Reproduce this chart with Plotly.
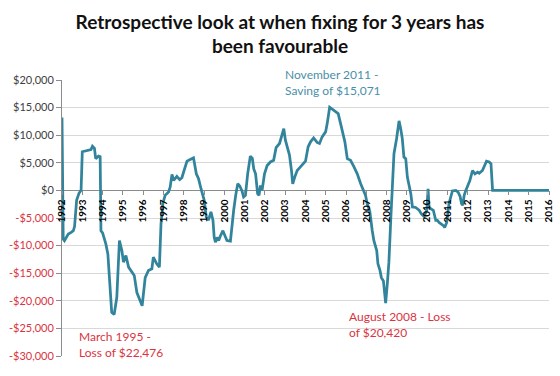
import plotly.graph_objects as go

# Decimal year of fixing start vs. saving (+) / loss (-) in $
years = [
    1992.00, 1992.06, 1992.12, 1992.20, 1992.31, 1992.45, 1992.56, 1992.62, 1992.72, 1992.84,
    1992.94, 1993.00, 1993.13, 1993.30, 1993.43, 1993.50, 1993.60, 1993.66, 1993.80, 1993.88,
    1993.92, 1994.00, 1994.16, 1994.26, 1994.37, 1994.45, 1994.57, 1994.70, 1994.83, 1994.95,
    1995.03, 1995.15, 1995.28, 1995.44, 1995.56, 1995.69, 1995.88, 1995.95, 1996.10, 1996.26,
    1996.43, 1996.50, 1996.67, 1996.80, 1996.88, 1996.97, 1997.08, 1997.25, 1997.33, 1997.42,
    1997.50, 1997.66, 1997.80, 1997.91, 1998.02, 1998.16, 1998.32, 1998.48, 1998.62, 1998.73,
    1998.85, 1998.95, 1999.01, 1999.11, 1999.22, 1999.34, 1999.44, 1999.50, 1999.56, 1999.64,
    1999.72, 1999.80, 1999.93, 2000.05, 2000.13, 2000.30, 2000.38, 2000.46, 2000.56, 2000.66,
    2000.76, 2000.87, 2000.95, 2001.04, 2001.15, 2001.28, 2001.38, 2001.45, 2001.54, 2001.64,
    2001.71, 2001.78, 2001.86, 2001.98, 2002.11, 2002.27, 2002.43, 2002.55, 2002.72, 2002.88,
    2002.93, 2003.01, 2003.15, 2003.21, 2003.31, 2003.37, 2003.47, 2003.59, 2003.75, 2003.92,
    2004.00, 2004.13, 2004.25, 2004.40, 2004.57, 2004.69, 2004.82, 2004.99, 2005.07, 2005.19,
    2005.32, 2005.48, 2005.61, 2005.73, 2005.84, 2005.94, 2006.06, 2006.22, 2006.39, 2006.55,
    2006.72, 2006.83, 2006.96, 2007.04, 2007.13, 2007.17, 2007.29, 2007.37, 2007.51, 2007.57,
    2007.67, 2007.74, 2007.84, 2007.90, 2007.95, 2008.03, 2008.11, 2008.20, 2008.28, 2008.36,
    2008.49, 2008.61, 2008.69, 2008.77, 2008.85, 2008.94, 2009.02, 2009.10, 2009.19, 2009.27,
    2009.43, 2009.60, 2009.71, 2009.84, 2009.98, 2010.04, 2010.09, 2010.17, 2010.30, 2010.42,
    2010.50, 2010.58, 2010.70, 2010.80, 2010.86, 2010.96, 2011.07, 2011.16, 2011.24, 2011.41,
    2011.52, 2011.62, 2011.69, 2011.75, 2011.82, 2011.90, 2011.99, 2012.10, 2012.23, 2012.35,
    2012.48, 2012.56, 2012.72, 2012.84, 2012.92, 2013.05, 2013.14, 2013.22, 2014.00, 2015.00,
    2016.00,
]
savings = [
    13200, -8800, -9100, -8600, -7900, -7600, -7300, -6500, -1800, -500,
    0, 7000, 7150, 7300, 7400, 8000, 7600, 5750, 6200, 6100,
    -7300, -7700, -9700, -11500, -17000, -22100, -22476, -19400, -9100, -10900,
    -13000, -11800, -13900, -14800, -15400, -18500, -20400, -20900, -15800, -14500,
    -14200, -12100, -13300, -13900, -6000, -2400, -900, -300, 600, 2900,
    1800, 2550, 1950, 2300, 3650, 5300, 5600, 5900, 3000, 2100,
    300, -1200, -1800, -4800, -5400, -3900, -5400, -8500, -9400, -8500,
    -9100, -8300, -7300, -8400, -9100, -9200, -6100, -3600, -900, 1200,
    800, -100, -1200, -900, 3000, 6200, 5800, 3900, 3000, -600,
    -900, 900, 0, 3000, 4500, 5150, 5450, 7750, 8500, 11000,
    11200, 9100, 7300, 6400, 3600, 1200, 2400, 3600, 4250, 4850,
    5300, 7900, 8800, 9500, 8700, 8500, 9700, 10600, 12100, 15071,
    14700, 14250, 13900, 12100, 10000, 8800, 5750, 5450, 4250, 3000,
    1200, 300, -900, -2400, -3600, -3800, -7300, -9100, -10900, -13300,
    -14500, -15800, -16400, -18200, -20420, -17000, -13000, -5450, 1800, 6650,
    9400, 12600, 11200, 9400, 6050, 5750, 2400, 1200, -600, -3000,
    -3100, -3600, -4250, -4700, -3600, 300, -3000, -3300, -3600, -5450,
    -5450, -5800, -6100, -6400, -6700, -5800, -2400, -900, -100, 0,
    -300, -1100, -2400, -2700, -900, 0, 900, 1800, 3600, 3000,
    3300, 3100, 3600, 4500, 5300, 5150, 4850, 0, 0, 0,
    0,
]

year_ticks = list(range(1992, 2017))
year_labels = [str(y) for y in year_ticks]
y_ticks = [20000, 15000, 10000, 5000, 0, -5000, -10000, -15000, -20000, -25000, -30000]
y_labels = ["$20,000", "$15,000", "$10,000", "$5,000", "$0", "-$5,000", "-$10,000",
            "-$15,000", "-$20,000", "-$25,000", "-$30,000"]

RED = "#d9343f"
TEAL_TXT = "#4a8fa9"
LINE = "#31849b"
FONT = "Lato"

y_text = [f"<span style='color:{RED}'>{t}</span>" if v < 0 else t for v, t in zip(y_ticks, y_labels)]

fig = go.Figure()
fig.add_trace(go.Scatter(x=years, y=savings, mode="lines",
                         line=dict(color=LINE, width=2.75), hoverinfo="skip"))

YMIN, YMAX = -30000, 20000
fig.update_layout(
    width=560, height=376,
    margin=dict(l=62, r=11, t=80, b=20),
    paper_bgcolor="white", plot_bgcolor="white",
    showlegend=False,
    font=dict(family=FONT, color="#404040"),
    title=dict(text="<b>Retrospective look at when fixing for 3 years has<br>been favourable</b>",
               x=0.5, xanchor="center", y=1 - 28.5 / 376, yanchor="middle",
               yref="container", font=dict(size=19, color="#111111", family=FONT)),
    xaxis=dict(range=[1992, 2016], tickvals=year_ticks, ticktext=year_labels,
               tickangle=-90, anchor="free", position=(0 - YMIN) / (YMAX - YMIN),
               automargin=False, layer="above traces",
               showgrid=False, zeroline=False, showline=False,
               ticks="outside", ticklen=4, tickcolor="#8c8c8c",
               tickfont=dict(size=10, color="#000000", family=FONT, weight="bold")),
    yaxis=dict(range=[YMIN, YMAX], tickvals=y_ticks, ticktext=y_text, automargin=False,
               layer="below traces",
               showgrid=True, gridcolor="#d9d9d9", gridwidth=1,
               zeroline=True, zerolinecolor="#8c8c8c", zerolinewidth=1,
               showline=True, linecolor="#8c8c8c", linewidth=1,
               ticks="outside", ticklen=5, tickcolor="#8c8c8c",
               tickfont=dict(size=11, color="#404040", family=FONT)),
)

def px_to_year(px):
    return 1992 + (px - 62) / (487 / 24)

def py_to_val(py):
    return (376 - 20 - py) / 276 * (YMAX - YMIN) + YMIN

annots = [
    ("November 2011 -<br>Saving of $15,071", 283, 82.5, TEAL_TXT),
    ("March 1995 -<br>Loss of $22,476", 77, 344.5, RED),
    ("August 2008 - Loss<br>of $20,420", 347, 324.5, RED),
]
for text, px, py, col in annots:
    fig.add_annotation(text=text, x=px_to_year(px), y=py_to_val(py), xref="x", yref="y",
                       xanchor="left", yanchor="middle", align="left", showarrow=False,
                       font=dict(size=12, color=col, family=FONT))

fig.write_html("out.html", config={"displayModeBar": False},
               post_script="document.body.style.margin='0px';")
